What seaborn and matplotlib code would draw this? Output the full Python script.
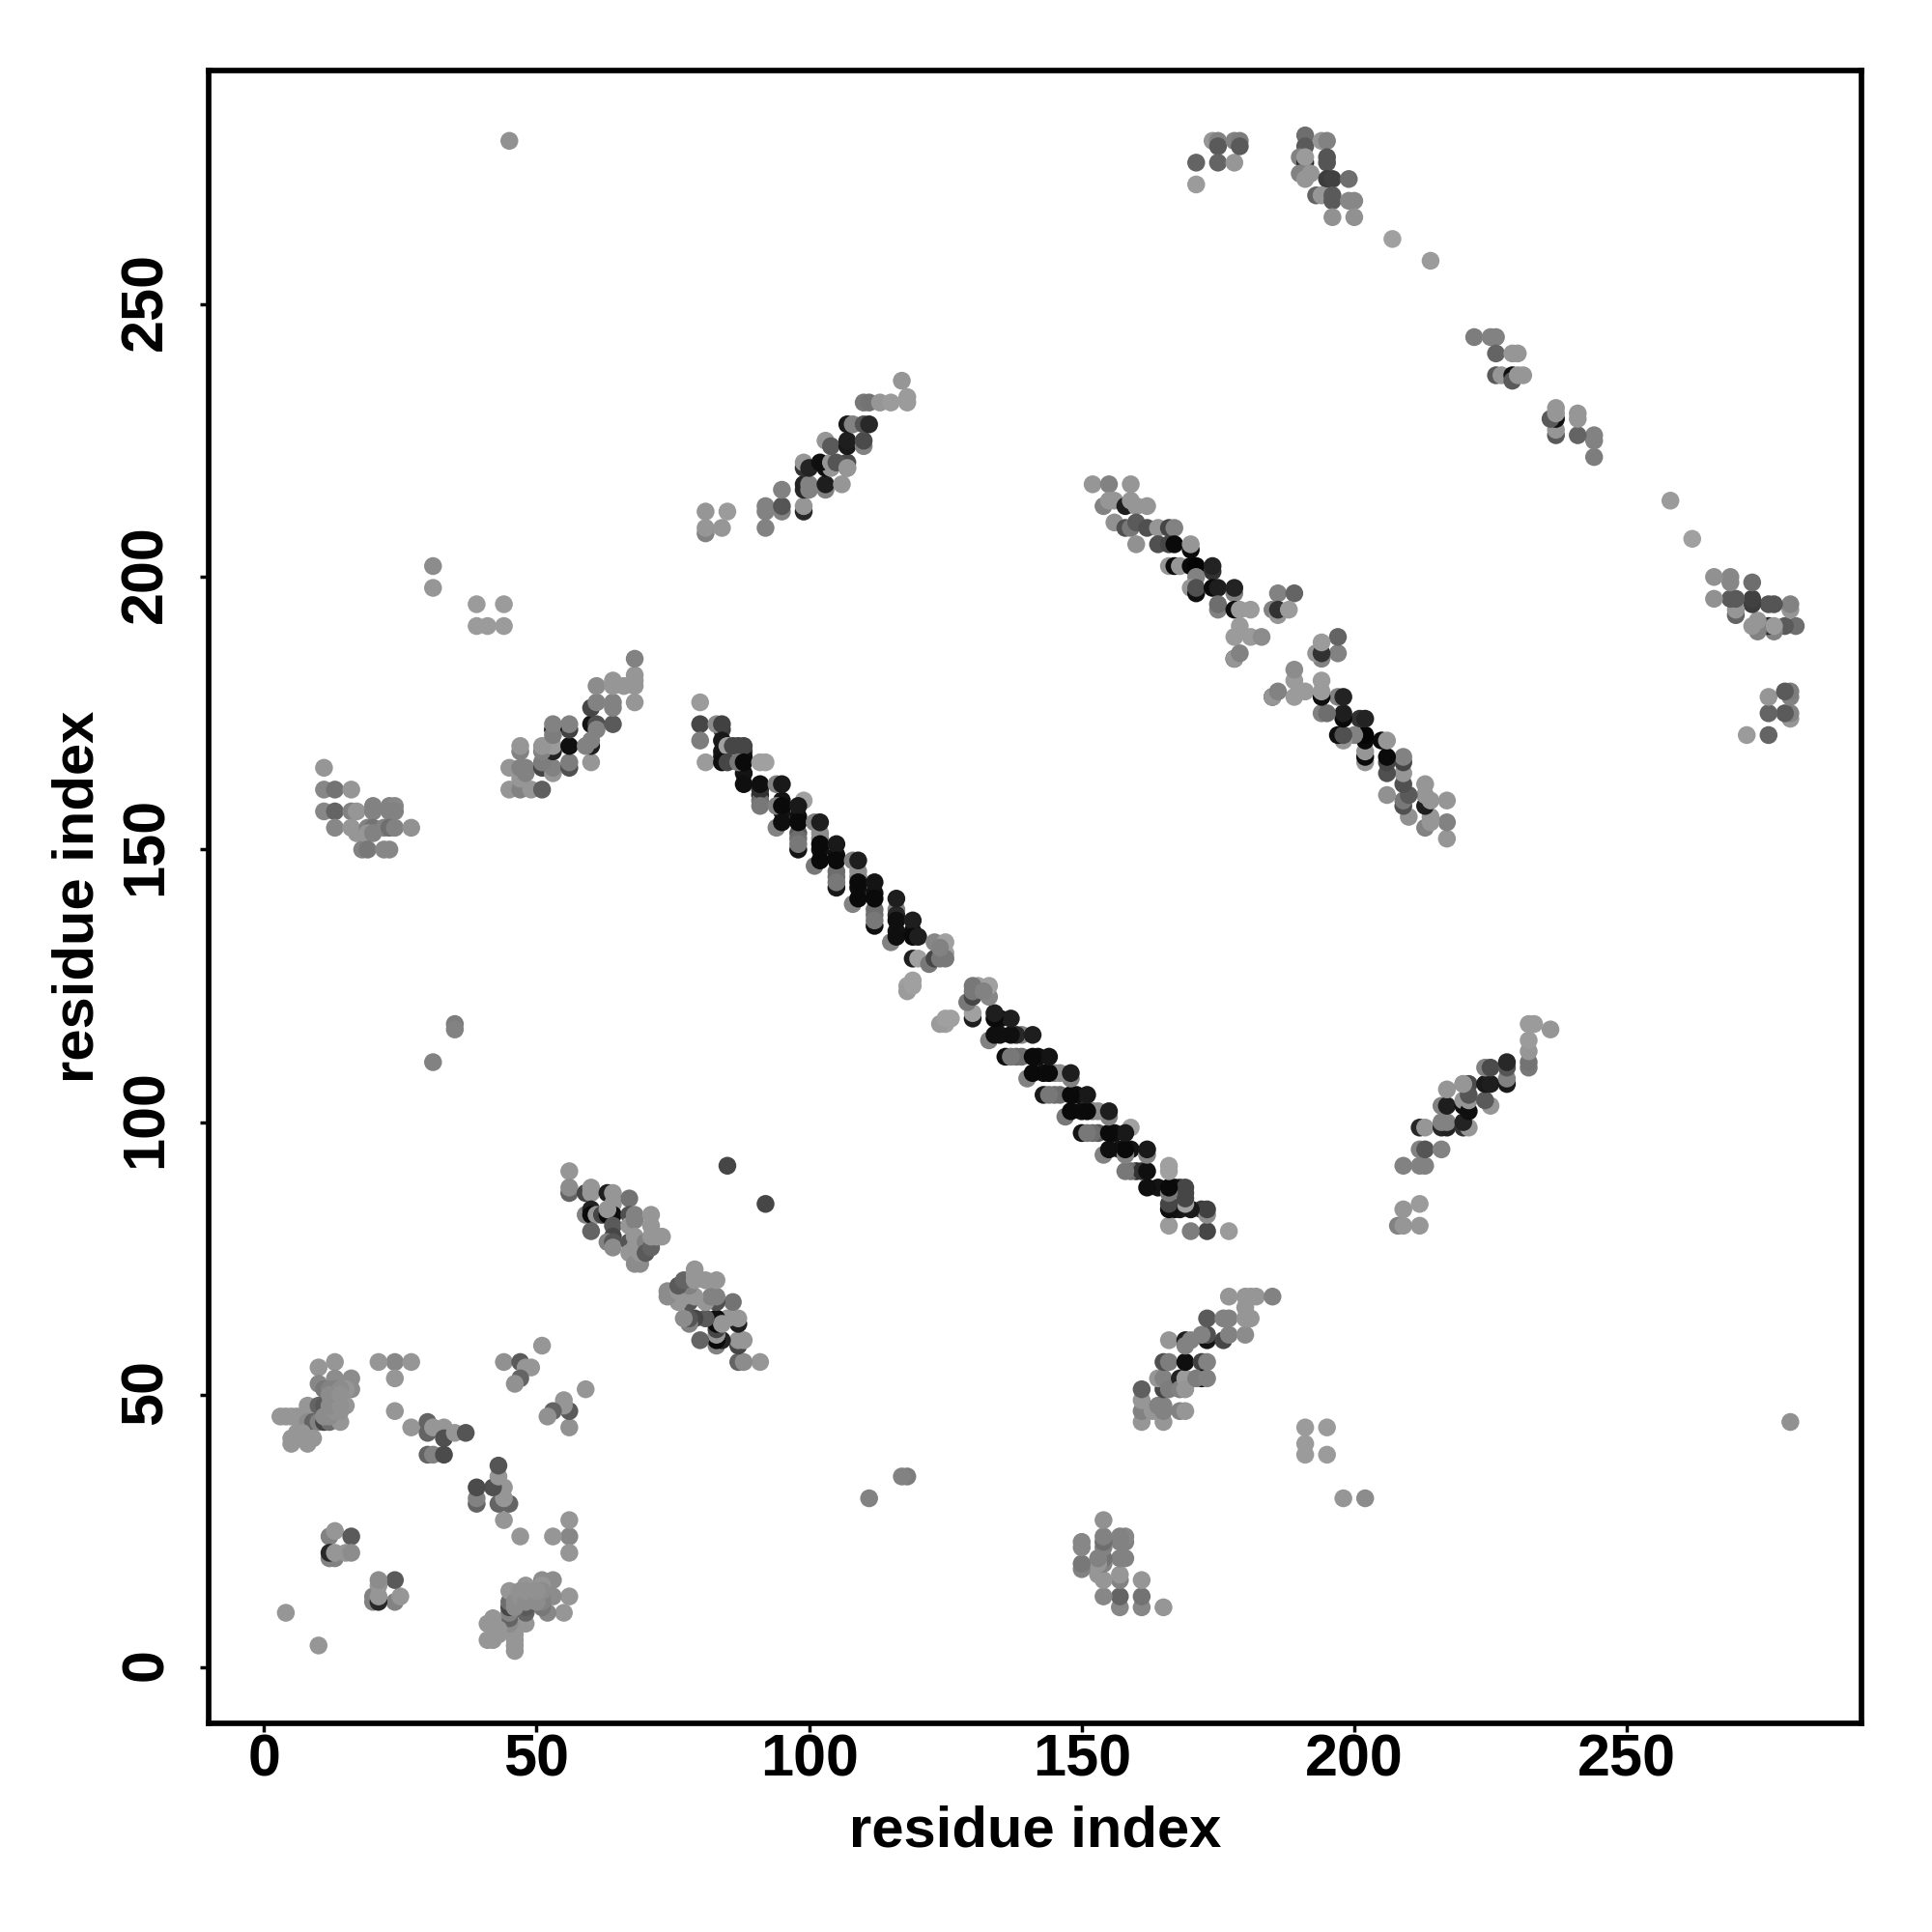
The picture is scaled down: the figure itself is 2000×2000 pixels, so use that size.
# contact map, residue vs residue. map is symmetric so only the y>x half is listed
import matplotlib
matplotlib.use("Agg")
import matplotlib.pyplot as plt
from matplotlib.transforms import ScaledTranslation
import pandas as pd
import seaborn as sns

# (residue a, residue b, grey level 0-255)
# weaker/hidden contacts that peek out from under the main hairpin
hairpin_under = [(84,172,60),(84,168,25),(84,167,20),(88,168,60),(88,167,15),(88,164,20),(91,160,40),(91,159,110),(95,159,20),(95,157,20),
                 (98,156,15),(98,153,90),(98,152,110),(102,152,130),(102,150,15),(105,149,15),(105,146,110),(105,145,110),(109,145,130),(109,143,15),
                 (112,142,15),(112,139,110),(112,138,110),(116,139,130),(116,138,40),(116,135,20),(119,135,15)]

hairpin = [(80,177,155),(80,173,70),(83,173,140),(84,173,65),(80,170,125),(84,170,25),(85,169,160),(86,169,70),(87,169,70),(88,169,70),
           (81,166,155),(84,166,15),(85,166,70),(87,166,120),(88,166,10),(91,166,160),(92,166,160),(88,162,15),(91,161,50),(91,162,15),
           (94,162,130),(95,162,25),(91,158,120),(94,158,130),(95,158,10),(99,159,160),(94,154,130),(95,155,15),(98,158,25),(98,155,10),
           (101,155,130),(102,153,140),(102,155,30),(98,150,20),(98,151,120),(102,151,10),(105,151,25),(101,147,120),(102,148,10),(105,148,10),
           (108,148,130),(109,146,140),(109,148,30),(105,143,25),(105,144,120),(109,144,10),(112,144,20),(108,140,130),(109,141,10),(112,141,10),
           (116,141,30),(112,136,15),(112,137,120),(116,137,15),(119,137,30),(115,133,130),(116,134,15),(119,134,10),(120,134,30),(123,133,135),
           (125,133,160),(125,131,160),(119,130,30),(120,130,160),(122,129,120),(123,130,70),(124,130,120),(125,130,120),(118,125,160),(119,126,160),
           (118,124,155),(119,125,160),(85,92,70),(124,132,130)]

helix_upper = [(81,208,130),(81,209,150),(81,212,150),(84,209,150),(85,212,155),
               (92,209,130),(92,212,130),(92,213,130),(95,212,130),(95,213,85),(95,216,130),(99,212,40),(99,213,150),(99,216,40),(99,217,35),
               (100,216,130),(100,217,130),(103,216,130),(103,217,30),(106,217,150),(99,220,50),(99,221,150),(100,220,35),(103,220,15),(104,220,150),
               (107,220,130),(102,221,15),(104,221,150),(107,221,75),(105,221,85),(107,220,150),(103,225,150),(104,224,90),(107,224,25),(107,225,30),
               (110,224,130),(110,225,75),(107,228,25),(108,228,130),(110,228,85),(111,228,40),(110,232,120),(111,232,115),(113,232,150),(115,232,155),
               (118,232,155),(118,233,155),(117,236,150)]

helix_left = [(45,161,150),(47,161,130),(49,161,150),(51,161,95),(45,165,150),(47,163,150),(48,164,130),(47,165,130),(48,165,130),(51,165,70),
              (47,168,130),(47,169,150),(53,164,150),(53,165,130),(56,165,80),(56,166,125),(51,166,125),(52,169,15),(53,168,35),(51,168,130),
              (53,169,155),(51,169,150),(56,169,15),(56,172,65),(56,173,130),(53,172,15),(53,171,125),(53,173,130),(60,166,150),(60,169,30),
              (59,169,130),(60,170,130),(60,173,20),(61,173,80),(61,172,130),(60,176,70),(61,177,130),(61,180,140),(64,173,90),(64,176,130),
              (64,177,130),(64,180,150),(64,181,150),(66,180,150),(68,177,150),(68,180,150),(68,181,150),(68,182,150),(68,185,130)]

far_left = [(44,191,155),(44,195,155),(41,191,155),(39,191,155),(39,195,155),(31,198,150),(31,202,140),
            (11,165,150),(11,161,135),(13,161,115),(16,161,150),(11,157,135),(13,157,100),(13,154,135),(16,157,130),(17,157,150),
            (16,154,150),(17,153,150),(20,158,130),(20,157,130),(19,154,130),(20,154,115),(19,153,150),(20,153,130),(23,158,130),(24,158,135),
            (23,157,130),(24,157,130),(22,154,130),(23,154,110),(24,154,130),(27,154,145),(18,150,130),(19,150,120),(22,150,135),(23,150,135),
            (35,118,125),(35,117,130),(31,111,130),(45,280,145)]

top_band = [(171,276,100),(171,272,155),(174,280,150),(175,280,130),(175,279,90),(175,276,100),(178,276,150),(178,280,130),(179,280,125),(179,279,90),
            (191,281,110),(191,279,90),(190,277,130),(191,276,45),(191,277,155),(190,274,130),(191,273,150),(192,274,150),(194,280,150),(195,280,130),
            (195,277,85),(195,276,85),(195,273,60),(196,273,65),(199,273,110),(193,270,100),(194,270,150),(196,270,90),(196,269,90),(199,269,135),
            (200,269,135),(196,266,145),(200,266,145),(207,262,160),(214,258,155),(222,244,125),(225,244,130),(226,244,130),(226,241,100),(229,241,150),
            (230,241,150),(226,237,90),(227,237,150),(229,237,15),(229,236,90),(230,237,150),(231,237,150)]

mid_band = [(152,217,150),(155,217,130),(159,217,150),(154,213,130),(155,214,150),(156,214,150),(158,213,30),(159,214,150),(160,213,150),(162,213,150),
            (156,210,145),(158,209,80),(159,209,120),(160,210,90),(162,209,80),(160,206,145),(164,209,150),(166,209,70),(167,209,130),(164,206,80),
            (166,206,70),(167,206,10),(170,205,10),(170,206,150),(166,202,150),(167,202,10),(168,202,150),(170,202,10),(171,202,5),(174,201,50),
            (174,202,35),(171,200,130),(170,198,150),(171,197,15),(171,198,80),(174,198,10),(175,198,30),(178,197,130),(178,198,35),(175,194,130),
            (175,195,110),(178,194,15),(179,194,155),(181,194,155),(179,191,155),(178,189,155),(181,189,155),(183,189,140),(178,185,60),(178,185,150),
            (179,186,130),(186,197,130),(189,197,100),(185,194,130),(186,193,150),(186,194,50),(188,194,155)]

strand_56 = [(56,91,150),(56,87,100),(56,88,140),(59,87,70),(60,88,150),(60,87,150),(59,83,130),(60,84,35),(60,83,10),(61,83,150),
             (60,80,100),(63,87,30),(64,87,150),(64,85,150),(62,83,70),(63,83,10),(64,83,15),(63,84,150),(64,81,90),(64,79,70),
             (63,78,130),(64,78,85),(64,77,140),(67,86,115),(67,83,80),(68,83,130),(67,81,150),(68,82,130),(67,78,85),(68,79,150),
             (68,77,150),(67,76,150),(68,74,140),(69,74,140),(69,76,150),(70,78,130),(70,76,90),(71,77,100),(71,79,150),(71,81,150),
             (71,83,150),(72,79,150),(73,79,150)]

lower_left = [(13,56,150),(10,55,150),(10,52,135),(13,53,140),(16,53,140),(16,51,140),(15,51,150),(11,51,120),(12,51,130),(13,51,130),
              (14,51,140),(8,48,150),(10,48,100),(11,48,90),(13,48,80),(15,48,150),(3,46,150),(4,46,150),(5,46,150),(6,46,150),
              (8,45,140),(9,45,100),(10,45,130),(11,45,70),(12,45,110),(14,45,150),(5,41,150),(8,41,150),(9,42,150),(5,42,150),
              (6,43,150),(7,43,150),(11,46,140),(12,46,140),(13,47,145),(14,47,145),(12,48,140),(14,48,145),(12,50,140),(14,50,145),
              (24,56,135),(21,56,150),(27,56,150),(24,53,150),(24,47,150),(27,44,150),(30,45,100),(30,43,100),
              (31,44,150),(33,44,150),(33,42,80),(35,43,150),(37,43,85),(30,39,100),(31,39,130),(33,39,75),(12,24,130),(13,25,150),
              (16,24,90),(12,20,130),(13,20,130),(12,21,40),(13,21,150),(15,21,150),(16,21,140),(4,10,150),(44,56,145),(47,56,90),
              (48,55,150),(49,55,150),(47,53,100),(46,52,145),(51,59,150)]

regions = [hairpin_under, hairpin, helix_upper, helix_left, far_left, top_band, mid_band, strand_56, lower_left]

res_a = [p[0] for r in regions for p in r]
res_b = [p[1] for r in regions for p in r]
grey = [p[2] / 255 for r in regions for p in r]

# both halves of the map
contacts = pd.DataFrame({"x": res_a + res_b, "y": res_b + res_a, "grey": grey + grey})

tick_vals = [0, 50, 100, 150, 200, 250]

sns.set_style("white")
plt.rcParams["font.family"] = ["Liberation Sans", "DejaVu Sans"]
plt.rcParams["font.weight"] = "bold"

fig = plt.figure(figsize=(20, 20), dpi=100)
ax = fig.add_axes([215.5 / 2000, 1 - 1784 / 2000, 1711.5 / 2000, 1711 / 2000])

sns.scatterplot(data=contacts, x="x", y="y", hue="grey", palette="gray", hue_norm=(0, 1),
                s=177, linewidth=0, legend=False, ax=ax)

ax.set_xlim(-10.25, 293.05)
ax.set_ylim(-10.28, 292.9)
ax.set_xticks(tick_vals)
ax.set_yticks(tick_vals)
ax.tick_params(axis="both", direction="out", length=6.5, width=2.5, color="black",
               labelcolor="black", labelsize=44, bottom=True, left=True)
ax.tick_params(axis="x", pad=1)
ax.tick_params(axis="y", pad=18.5)
# rotated labels sit a little low otherwise
shift_up = ScaledTranslation(0, 3.3 / 72 * 0.72, fig.dpi_scale_trans)
for lab in ax.get_yticklabels():
    lab.set_rotation(90)
    lab.set_va("center")
    lab.set_transform(lab.get_transform() + shift_up)
ax.set_xlabel("residue index", fontsize=43, fontweight="bold", color="black", labelpad=12)
ax.set_ylabel("residue index", fontsize=43, fontweight="bold", color="black", labelpad=11)
for s in ax.spines.values():
    s.set_linewidth(4.1)
    s.set_color("black")

fig.savefig("out.png", dpi=100)
